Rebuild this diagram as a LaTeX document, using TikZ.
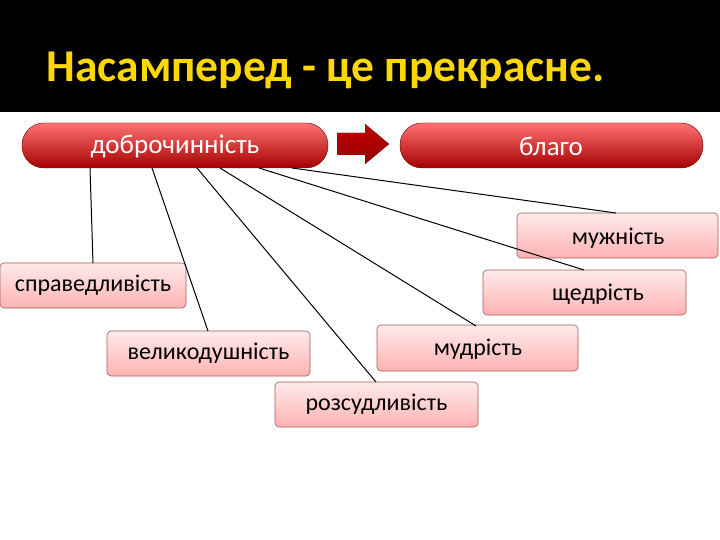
\documentclass[tikz,border=0pt]{standalone}
\usepackage{fontspec}
\setmainfont{Carlito}
\begin{document}
\begin{tikzpicture}[x=1pt,y=-1pt,
 pill/.style={rounded corners=22pt,top color=red!55!white,bottom color=red!65!black,draw=red!40!black,line width=0.4pt},
 pbox/.style={rounded corners=4pt,top color=red!8!white,bottom color=red!30!white,draw=red!30!gray,line width=0.6pt},
 lab/.style={font=\fontsize{24}{28}\selectfont},
 plab/.style={font=\fontsize{27}{30}\selectfont,text=white},
 conn/.style={line width=1pt}]
\useasboundingbox (0,0) rectangle (720,540);
\fill[white] (0,0) rectangle (720,540);
\fill[black] (0,0) rectangle (720,112);
\node[anchor=base west,text=yellow!75!orange,font=\bfseries\fontsize{45.5}{50}\selectfont] (title) at (43,82) {Насамперед - це прекрасне.};
\path[pill] (22,123) rectangle (328,168);
\node[plab] (dob) at (175,146) {доброчинність};
\path[pill] (400,123) rectangle (703,168);
\node[plab] (bl) at (551,146) {благо};
\fill[top color=red!75!black,bottom color=red!60!black] (337,133) -- (365,133) -- (365,124) -- (389,144) -- (365,164) -- (365,155) -- (337,155) -- cycle;
\node[pbox,minimum width=201pt,minimum height=45pt] (muz) at (617.5,235.5) {};
\node[lab,anchor=east] at (668,238) {мужність};
\node[pbox,minimum width=186pt,minimum height=45pt,lab] (spr) at (93,285.5) {справедливість};
\node[pbox,minimum width=203pt,minimum height=45pt] (shch) at (584.5,292.5) {};
\node[lab] at (598,294) {щедрість};
\node[pbox,minimum width=203pt,minimum height=45pt,lab] (vel) at (208.5,353.5) {великодушність};
\node[pbox,minimum width=201pt,minimum height=46pt] (mud) at (477.5,348) {};
\node[lab] at (478,349) {мудрість};
\node[pbox,minimum width=203pt,minimum height=45pt,lab] (roz) at (376.5,404.5) {розсудливість};
\coordinate (s1) at (90,168); \coordinate (s2) at (152,168); \coordinate (s3) at (197,168);
\coordinate (s4) at (220,168); \coordinate (s5) at (259,168); \coordinate (s6) at (292,168);
\draw[conn] (s1) -- (93,263);
\draw[conn] (s2) -- (208,331);
\draw[conn] (s3) -- (376,382);
\draw[conn] (s4) -- (476,326);
\draw[conn] (s5) -- (584,270);
\draw[conn] (s6) -- (616,213);
\end{tikzpicture}
\end{document}
